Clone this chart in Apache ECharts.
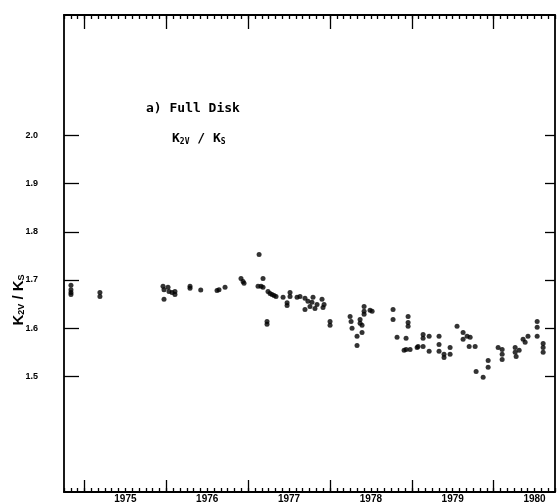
<!DOCTYPE html>
<html>
<head>
<meta charset="utf-8">
<script src="https://cdn.jsdelivr.net/npm/echarts@6/dist/echarts.min.js"></script>
<style>
html,body{margin:0;padding:0;background:#fff;}
#chart{width:558px;height:504px;}
</style>
</head>
<body>
<div id="chart"></div>
<script>
var dates = [
  1974.835,1974.835,1974.835,1974.835,
  1975.189,1975.189,
  1975.960,1975.972,1975.972,1976.021,1976.033,1976.070,1976.106,1976.106,
  1976.290,1976.290,1976.421,1976.620,1976.644,1976.718,
  1976.913,1976.938,1976.950,
  1977.134,1977.182,1977.121,1977.158,1977.182,1977.231,1977.231,
  1977.243,1977.268,1977.292,1977.317,1977.341,1977.427,1977.476,1977.476,
  1977.512,1977.512,1977.598,1977.634,1977.695,1977.695,1977.731,1977.756,
  1977.780,1977.793,1977.817,1977.842,1977.903,1977.915,1977.928,
  1978.001,1978.001,
  1978.246,1978.258,1978.270,1978.331,1978.331,1978.368,1978.368,1978.392,1978.392,
  1978.417,1978.417,1978.417,1978.490,1978.515,
  1978.771,1978.771,1978.820,1978.906,1978.930,1978.930,1978.955,1978.955,1978.955,1978.979,
  1979.065,1979.077,1979.138,1979.138,1979.138,1979.212,1979.212,
  1979.333,1979.333,1979.333,1979.394,1979.394,1979.468,1979.468,
  1979.553,1979.627,1979.627,1979.676,1979.713,1979.701,1979.774,
  1979.786,1979.872,1979.933,1979.933,
  1980.055,1980.104,1980.104,1980.104,1980.263,1980.263,1980.275,1980.312,
  1980.360,1980.385,1980.420,1980.532,1980.532,1980.532,1980.605,1980.605,1980.605
];
var ratios = [
  1.689,1.680,1.674,1.670,
  1.674,1.666,
  1.687,1.680,1.660,1.685,1.676,1.674,1.676,1.670,
  1.687,1.683,1.679,1.678,1.680,1.685,
  1.703,1.697,1.693,
  1.753,1.703,1.687,1.687,1.685,1.614,1.608,
  1.676,1.672,1.670,1.668,1.666,1.664,1.653,1.647,
  1.674,1.666,1.664,1.666,1.662,1.639,1.656,1.645,
  1.654,1.664,1.641,1.649,1.660,1.643,1.649,
  1.614,1.606,
  1.624,1.614,1.600,1.583,1.564,1.618,1.610,1.606,1.591,
  1.645,1.635,1.629,1.637,1.635,
  1.639,1.618,1.581,1.554,1.579,1.556,1.624,1.612,1.604,1.556,
  1.560,1.562,1.587,1.579,1.562,1.583,1.552,
  1.583,1.566,1.552,1.539,1.546,1.560,1.546,
  1.604,1.591,1.577,1.583,1.581,1.562,1.562,
  1.510,1.498,1.533,1.519,
  1.560,1.556,1.546,1.535,1.560,1.550,1.541,1.554,
  1.577,1.571,1.583,1.614,1.602,1.583,1.568,1.560,1.550
];
var yearTicks = [1975, 1976, 1977, 1978, 1979, 1980];
var yearLabels = ['1975', '1976', '1977', '1978', '1979', '1980'];
var yTicks = [1.5, 1.6, 1.7, 1.8, 1.9, 2.0];
var yLabels = ['1.5', '1.6', '1.7', '1.8', '1.9', '2.0'];

var X_MIN = 1974.75, X_MAX = 1980.75, Y_MIN = 1.26, Y_MAX = 2.25;

var monthTicks = [];
for (var m = 0; m <= 72; m++) { monthTicks.push(+(X_MIN + m / 12).toFixed(5)); }
var yearLabelPos = yearTicks.map(function (y) { return y + 0.5; });

var points = dates.map(function (d, i) { return [d, ratios[i]]; });

var lineStyle = { color: '#000', width: 1.8 };
function xAx(pos, ticks, len, showLine, showLabel) {
  return {
    type: 'value', position: pos, min: X_MIN, max: X_MAX, gridIndex: 0,
    axisLine: { show: showLine, onZero: false, lineStyle: lineStyle },
    axisTick: { show: true, inside: true, length: len, customValues: ticks, lineStyle: { color: '#000', width: 1.3 } },
    axisLabel: showLabel ? {
      show: true, customValues: yearLabelPos, margin: 2,
      fontFamily: 'Liberation Sans', fontWeight: 'bold', fontSize: 10, color: '#000',
      formatter: function (v) { return yearLabels[yearTicks.indexOf(Math.round(v - 0.5))]; }
    } : { show: false },
    splitLine: { show: false }
  };
}

var chart = echarts.init(document.getElementById('chart'), null, { renderer: 'canvas' });
chart.setOption({
  animation: false,
  backgroundColor: '#fff',
  grid: { left: 64, right: 3, top: 15, bottom: 11 },
  xAxis: [
    xAx('bottom', yearTicks, 12, true, true),
    xAx('bottom', monthTicks, 4, false, false),
    xAx('top', yearTicks, 14, true, false),
    xAx('top', monthTicks, 4, false, false)
  ],
  yAxis: [
    {
      type: 'value', position: 'left', min: Y_MIN, max: Y_MAX,
      axisLine: { show: true, onZero: false, lineStyle: lineStyle },
      axisTick: { show: true, inside: true, length: 15, customValues: yTicks, lineStyle: { color: '#000', width: 1.3 } },
      axisLabel: {
        show: true, customValues: yTicks, margin: 26,
        fontFamily: 'Liberation Sans', fontWeight: 'bold', fontSize: 9, color: '#000',
        formatter: function (v) { return yLabels[yTicks.indexOf(Math.round(v * 10) / 10)]; }
      },
      splitLine: { show: false }
    },
    {
      type: 'value', position: 'right', min: Y_MIN, max: Y_MAX,
      axisLine: { show: true, onZero: false, lineStyle: lineStyle },
      axisTick: { show: true, inside: true, length: 10, customValues: yTicks, lineStyle: { color: '#000', width: 1.3 } },
      axisLabel: { show: false },
      splitLine: { show: false }
    }
  ],
  series: [{
    type: 'scatter',
    xAxisIndex: 0, yAxisIndex: 0,
    data: points,
    symbol: 'circle',
    symbolSize: 5,
    itemStyle: { color: '#000' }
  }],
  graphic: [
    {
      type: 'text', x: 19, y: 300, rotation: Math.PI / 2,
      style: {
        text: '{k|K}{s|2V}{k| / K}{s|S}',
        align: 'center', verticalAlign: 'middle', fill: '#000',
        rich: {
          k: { fontFamily: 'Liberation Sans', fontWeight: 'bold', fontSize: 15, fill: '#000' },
          s: { fontFamily: 'Liberation Sans', fontWeight: 'bold', fontSize: 9, fill: '#000', padding: [6, 0, 0, 0] }
        }
      }
    },
    {
      type: 'text', x: 146, y: 109,
      style: {
        text: 'a) Full Disk', align: 'left', verticalAlign: 'middle',
        fontFamily: 'DejaVu Sans Mono', fontWeight: 'bold', fontSize: 13, fill: '#000'
      }
    },
    {
      type: 'text', x: 172, y: 139,
      style: {
        text: '{k|K}{s|2V}{k| / K}{s|S}', align: 'left', verticalAlign: 'middle', fill: '#000',
        rich: {
          k: { fontFamily: 'DejaVu Sans Mono', fontWeight: 'bold', fontSize: 13, fill: '#000' },
          s: { fontFamily: 'DejaVu Sans Mono', fontWeight: 'bold', fontSize: 8, fill: '#000', padding: [6, 0, 0, 0] }
        }
      }
    }
  ]
});
</script>
</body>
</html>
